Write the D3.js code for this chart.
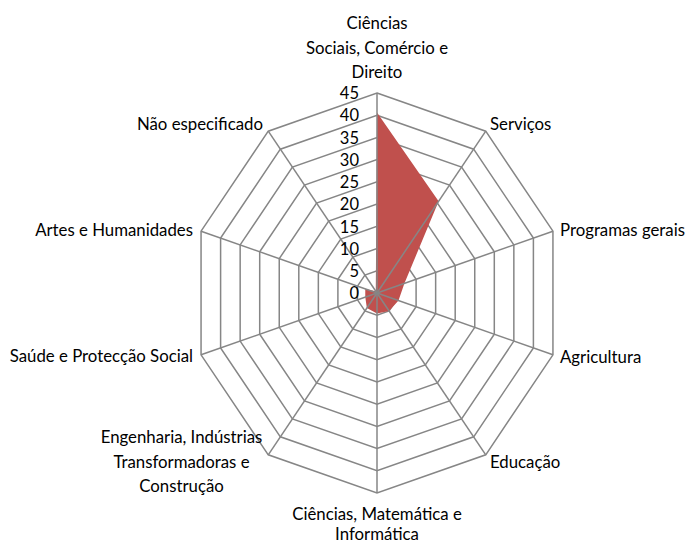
<!DOCTYPE html>
<html><head><meta charset="utf-8">
<script src="https://cdn.jsdelivr.net/npm/d3@7"></script>
<style>body{margin:0;background:#fff}svg{display:block}text{font-family:Lato,"Open Sans",sans-serif;fill:#000}</style>
</head><body>
<svg id="c" width="689" height="545"></svg>
<script>
const categories = [
  ["Ciências","Sociais, Comércio e","Direito"],
  ["Serviços"],
  ["Programas gerais"],
  ["Agricultura"],
  ["Educação"],
  ["Ciências, Matemática e","Informática"],
  ["Engenharia, Indústrias","Transformadoras e","Construção"],
  ["Saúde e Protecção Social"],
  ["Artes e Humanidades"],
  ["Não especificado"]
];
const values = [40.6, 25.5, 7, 5.5, 5, 4.6, 4.2, 3, 3, 0.5];
const ticks = [0,5,10,15,20,25,30,35,40,45];

const svg = d3.select("#c");
const cx = 377, cy = 293, Rx = 185, Ry = 200;
const rx = d3.scaleLinear().domain([0,45]).range([0,Rx]);
const ry = d3.scaleLinear().domain([0,45]).range([0,Ry]);
const n = categories.length;
const ang = d3.scaleLinear().domain([0,n]).range([0,2*Math.PI]);
const pt = (i,v) => [cx + rx(v)*Math.sin(ang(i)), cy - ry(v)*Math.cos(ang(i))];

const grid = svg.append("g").attr("stroke","#868686").attr("stroke-width",1.5).attr("fill","none");
ticks.filter(t=>t>0).forEach(t=>{
  grid.append("path").attr("d", d3.line()(d3.range(n).map(i=>pt(i,t))) + "Z");
});

svg.append("path")
  .attr("d", d3.line()(values.map((v,i)=>pt(i,v))) + "Z")
  .attr("fill","#C0504D");

const spokes = svg.append("g").attr("stroke","#868686").attr("stroke-width",1.5);
d3.range(n).forEach(i=>{
  const [x,y] = pt(i,45);
  spokes.append("line").attr("x1",cx).attr("y1",cy).attr("x2",x).attr("y2",y);
});

const sy = 1.08;
svg.append("g").selectAll("text").data(ticks).join("text")
  .attr("transform", d=>`translate(${cx-18},${cy - ry(d)}) scale(1,${sy})`)
  .attr("dy","0.35em").attr("text-anchor","end").attr("font-size",16.5).text(d=>d);

const fs = 16.8;
const lab = svg.append("g").attr("font-size",fs);
const place = [
  {x:377, y:23, a:"middle", lh:24.5},
  {x:490, y:124, a:"start", lh:24},
  {x:560, y:230, a:"start", lh:24},
  {x:560, y:357, a:"start", lh:24},
  {x:490, y:462, a:"start", lh:24},
  {x:377, y:514, a:"middle", lh:20},
  {x:181.5, y:437, a:"middle", lh:24.5},
  {x:193, y:356, a:"end", lh:24},
  {x:193, y:230, a:"end", lh:24},
  {x:263, y:124, a:"end", lh:24}
];
categories.forEach((lines,i)=>{
  const p = place[i];
  lines.forEach((l,j)=>{
    lab.append("text").attr("text-anchor",p.a)
      .attr("transform",`translate(${p.x},${p.y + j*p.lh}) scale(1,${sy})`)
      .attr("dy","0.35em").text(l);
  });
});
</script>
</body></html>
